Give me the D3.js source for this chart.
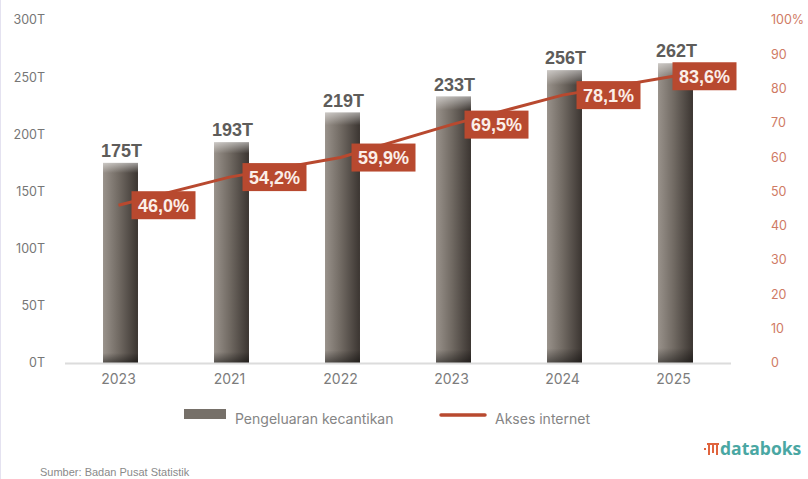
<!DOCTYPE html>
<html>
<head>
<meta charset="utf-8">
<script src="https://cdn.jsdelivr.net/npm/d3@7"></script>
<style>
  html, body { margin: 0; padding: 0; background: #fff; }
  svg { display: block; }
</style>
</head>
<body>
<svg id="chart" width="808" height="479"></svg>
<script>
// Beauty spending (trillion rupiah) and internet access (% of population)
const years = ["2023", "2021", "2022", "2023", "2024", "2025"];
const spending = [175, 193, 219, 233, 256, 262];
const internet = [46.0, 54.2, 59.9, 69.5, 78.1, 83.6];
const leftTicks = [0, 50, 100, 150, 200, 250, 300];
const rightTicks = [0, 10, 20, 30, 40, 50, 60, 70, 80, 90, 100];

const svg = d3.select("#chart");
const W = 808, H = 479;
const plot = { left: 65, right: 731, top: 20, bottom: 363 };

const idx = years.map((_, i) => i);
const x = d3.scaleBand().domain(idx).range([plot.left, plot.right]).paddingInner(0.685).paddingOuter(0.3425);
const yL = d3.scaleLinear().domain([0, 300]).range([plot.bottom, plot.top]);
const yR = d3.scaleLinear().domain([0, 100]).range([plot.bottom, plot.top]);
const cx = i => x(i) + x.bandwidth() / 2;

const defs = svg.append("defs");
const gh = defs.append("linearGradient").attr("id", "barH").attr("x1", 0).attr("x2", 1).attr("y1", 0).attr("y2", 0);
gh.append("stop").attr("offset", "0%").attr("stop-color", "#99928b");
gh.append("stop").attr("offset", "45%").attr("stop-color", "#716a63");
gh.append("stop").attr("offset", "100%").attr("stop-color", "#3b3531");
const gv = defs.append("linearGradient").attr("id", "barV").attr("x1", 0).attr("x2", 0).attr("y1", 0).attr("y2", 1)
  .attr("gradientUnits", "objectBoundingBox");
gv.append("stop").attr("offset", "0").attr("stop-color", "#ffffff").attr("stop-opacity", 0.5);
gv.append("stop").attr("offset", "0.05").attr("stop-color", "#ffffff").attr("stop-opacity", 0);
gv.append("stop").attr("offset", "0.95").attr("stop-color", "#000000").attr("stop-opacity", 0);
gv.append("stop").attr("offset", "1").attr("stop-color", "#000000").attr("stop-opacity", 0.45);

// faint frame edge on the left
svg.append("line").attr("x1", 0.5).attr("x2", 0.5).attr("y1", 0).attr("y2", H)
  .attr("stroke", "#e4e2f0").attr("stroke-width", 1);

// left axis labels
svg.append("g").selectAll("text").data(leftTicks).join("text")
  .attr("x", 45).attr("y", d => yL(d)).attr("dy", "0.35em")
  .attr("text-anchor", "end")
  .attr("font-family", "Inter, 'Noto Sans', sans-serif").attr("font-size", 12.5)
  .attr("fill", "#767676")
  .text(d => d + "T");

// right axis labels
svg.append("g").selectAll("text").data(rightTicks).join("text")
  .attr("x", 771).attr("y", d => yR(d)).attr("dy", "0.35em")
  .attr("text-anchor", "start")
  .attr("font-family", "Inter, 'Noto Sans', sans-serif").attr("font-size", 12.5)
  .attr("fill", "#cf7a64")
  .text(d => d === 100 ? "100%" : d);

// bars
const bars = svg.append("g");
bars.selectAll("rect.b").data(idx).join("rect").attr("class", "b")
  .attr("x", i => x(i)).attr("width", x.bandwidth())
  .attr("y", i => yL(spending[i])).attr("height", i => yL(0) - yL(spending[i]))
  .attr("fill", "url(#barH)");
bars.selectAll("rect.s").data(idx).join("rect").attr("class", "s")
  .attr("x", i => x(i)).attr("width", x.bandwidth())
  .attr("y", i => yL(spending[i])).attr("height", i => yL(0) - yL(spending[i]))
  .attr("fill", "url(#barV)");

// baseline
svg.append("line").attr("x1", plot.left).attr("x2", plot.right)
  .attr("y1", plot.bottom + 0.5).attr("y2", plot.bottom + 0.5)
  .attr("stroke", "#dcdcdc").attr("stroke-width", 2);

// x axis labels
svg.append("g").selectAll("text").data(idx).join("text")
  .attr("x", i => cx(i) - 2).attr("y", 379).attr("dy", "0.35em")
  .attr("text-anchor", "middle")
  .attr("font-family", "Inter, 'Noto Sans', sans-serif").attr("font-size", 14)
  .attr("fill", "#7c7c7c")
  .text(i => years[i]);

// bar value labels
svg.append("g").selectAll("text").data(idx).join("text")
  .attr("x", i => cx(i) + 1).attr("y", i => yL(spending[i]) - 6)
  .attr("text-anchor", "middle")
  .attr("font-family", "'Liberation Sans', Arial, sans-serif").attr("font-weight", "bold")
  .attr("font-size", 18).attr("fill", "#5e5c5a")
  .text(i => spending[i] + "T");

// internet access line
const line = d3.line().x(i => cx(i) - 2).y(i => yR(internet[i]));
svg.append("path").datum(idx).attr("d", line)
  .attr("fill", "none").attr("stroke", "#b8492f").attr("stroke-width", 3);

// percentage labels
const fmt = v => v.toFixed(1).replace(".", ",") + "%";
const offs = [11, 11, 9, 11, 12, -3];
const lbl = svg.append("g").selectAll("g").data(idx).join("g")
  .attr("transform", i => `translate(${cx(i) + offs[i]},${yR(internet[i])})`);
lbl.append("rect").attr("x", 0).attr("y", -14).attr("width", 64).attr("height", 28)
  .attr("fill", "#b8492f");
lbl.append("text").attr("x", 32).attr("y", 0).attr("dy", "0.36em")
  .attr("text-anchor", "middle")
  .attr("font-family", "'Liberation Sans', Arial, sans-serif").attr("font-weight", "bold")
  .attr("font-size", 18).attr("fill", "#fbeee8")
  .text(i => fmt(internet[i]));

// legend
const lg = svg.append("g");
lg.append("rect").attr("x", 184).attr("y", 409).attr("width", 42).attr("height", 10).attr("fill", "#767069");
lg.append("text").attr("x", 235).attr("y", 419).attr("dy", "0.35em")
  .attr("font-family", "Inter, 'Noto Sans', sans-serif").attr("font-size", 14).attr("fill", "#858585")
  .text("Pengeluaran kecantikan");
lg.append("line").attr("x1", 441).attr("x2", 485).attr("y1", 415).attr("y2", 415)
  .attr("stroke", "#b8492f").attr("stroke-width", 3.5).attr("stroke-linecap", "round");
lg.append("text").attr("x", 495).attr("y", 419).attr("dy", "0.35em")
  .attr("font-family", "Inter, 'Noto Sans', sans-serif").attr("font-size", 14).attr("fill", "#858585")
  .text("Akses internet");

// source
svg.append("text").attr("x", 40).attr("y", 472).attr("dy", "0.35em")
  .attr("font-family", "'Liberation Sans Narrow', 'Liberation Sans', sans-serif").attr("font-size", 11).attr("fill", "#8a8a8a")
  .text("Sumber: Badan Pusat Statistik");

// databoks mark
const logo = svg.append("g").attr("transform", "translate(704,449)");
const iconBars = [[0, -1, 2, 2], [4, -6, 2, 12], [8, -4, 2, 8], [12, -6, 2, 12]];
logo.selectAll("rect").data(iconBars).join("rect")
  .attr("x", d => d[0]).attr("y", d => d[1]).attr("width", d => d[2]).attr("height", d => d[3])
  .attr("fill", "#e0643e");
logo.append("rect").attr("x", 3).attr("y", -6).attr("width", 12).attr("height", 2).attr("fill", "#e0643e");
logo.append("text").attr("x", 16).attr("y", 0).attr("dy", "0.36em")
  .attr("font-family", "'Open Sans', 'Noto Sans', sans-serif").attr("font-weight", "bold")
  .attr("font-size", 17.5).attr("fill", "#4aa7a3")
  .text("databoks");
</script>
</body>
</html>
